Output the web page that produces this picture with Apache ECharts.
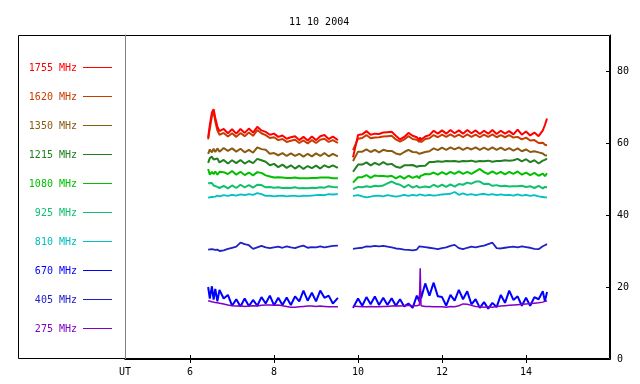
<!DOCTYPE html>
<html>
<head>
<meta charset="utf-8">
<script src="https://cdn.jsdelivr.net/npm/echarts@6/dist/echarts.min.js"></script>
<style>html,body{margin:0;padding:0;background:#fff}#c{width:640px;height:384px}</style>
</head>
<body>
<div id="c"></div>
<script>
const title = '11 10 2004';
const xTicks = [6, 8, 10, 12, 14];
const yTicks = [0, 20, 40, 60, 80];
const names = ['1755 MHz','1620 MHz','1350 MHz','1215 MHz','1080 MHz','925 MHz','810 MHz','670 MHz','405 MHz','275 MHz'];
const colors = ['#ff0000','#c83c00','#8a5a10','#208020','#00c000','#10c070','#00c0c0','#0000ff','#2020c8','#8000c8'];

const times1 = [6.43,6.47,6.52,6.56,6.6,6.65,6.7,6.8,6.9,7.0,7.1,7.2,7.3,7.4,7.5,7.6,7.7,7.8,7.9,8.0,8.1,8.2,8.3,8.4,8.5,8.6,8.7,8.8,8.9,9.0,9.1,9.2,9.3,9.4,9.52];
const times2 = [9.88,10.0,10.1,10.2,10.3,10.4,10.5,10.6,10.7,10.8,10.9,11.0,11.1,11.2,11.3,11.4,11.46,11.48,11.5,11.6,11.7,11.8,11.9,12.0,12.1,12.2,12.3,12.4,12.5,12.6,12.7,12.8,12.9,13.0,13.1,13.2,13.3,13.4,13.5,13.6,13.7,13.8,13.9,14.0,14.1,14.2,14.3,14.4,14.45,14.5];

const f1755a = [61.5,65,68.5,69.4,67,64.5,63.3,63.9,62.7,63.8,62.6,63.9,62.8,64.0,62.9,64.5,63.5,63.1,62.3,62.6,61.7,62.1,61.2,61.6,61.9,60.8,61.7,60.7,61.8,60.8,61.9,62.2,61.1,61.8,60.8];
const f1755b = [56.0,62.2,62.4,63.3,62.3,62.6,62.5,62.9,63.0,63.1,62.0,61.0,61.7,62.8,62.0,61.6,60.8,61.6,60.9,61.8,62.2,63.4,62.6,63.5,62.6,63.6,62.7,63.5,62.6,63.6,62.7,63.5,62.5,63.4,62.6,63.6,62.5,63.4,62.6,63.3,62.4,63.7,62.3,63.2,62.1,62.9,61.9,63.5,65.0,66.8];
const f1620a = [61.0,64.0,67.5,68.5,66.0,63.5,62.3,62.8,61.8,62.7,61.7,62.8,61.9,62.9,62.0,63.6,62.7,62.2,61.4,61.6,60.8,61.1,60.3,60.6,60.9,60.0,60.7,59.9,60.8,60.0,60.9,61.2,60.3,60.8,60.0];
const f1620b = [58.0,61.2,61.4,62.2,61.3,61.5,61.6,61.8,61.9,62.0,61.0,60.4,61.0,61.9,61.1,60.9,60.3,60.9,60.2,61.1,61.3,62.2,61.6,62.3,61.7,62.4,61.7,62.3,61.6,62.4,61.7,62.3,61.6,62.3,61.7,62.4,61.6,62.2,61.6,62.2,61.5,61.7,61.0,61.5,60.7,60.8,60.0,60.1,59.5,59.4];
const f1350a = [57.0,58.2,57.4,58.4,57.5,58.5,57.6,58.6,57.8,58.5,57.6,58.4,57.4,58.1,57.3,58.8,58.3,58.1,57.0,57.2,56.6,57.2,56.4,57.1,56.4,57.0,56.2,57.0,56.3,57.1,56.4,57.2,56.3,57.0,56.3];
const f1350b = [55.0,57.6,57.6,58.2,57.5,58.1,57.4,58.1,57.8,57.8,57.1,56.8,57.5,58.1,57.5,57.4,57.0,57.3,56.9,57.5,57.7,58.5,58.0,58.7,58.1,58.8,58.2,58.8,58.1,58.7,58.2,58.8,58.1,58.7,58.1,58.8,58.1,58.7,58.0,58.6,57.9,58.5,57.7,58.2,57.5,57.7,57.4,57.1,56.6,56.5];
const f1215a = [54.5,55.8,56.2,55.4,55.0,55.7,54.6,55.3,54.3,55.2,54.4,55.3,54.3,55.0,54.4,55.6,55.2,54.8,53.8,54.2,53.3,54.0,53.1,53.8,52.9,53.7,52.8,53.6,53.0,53.7,52.9,53.8,53.2,53.8,53.1];
const f1215b = [52.0,54.0,54.0,54.6,53.8,54.5,53.9,54.7,54.0,54.2,53.4,53.1,53.8,53.8,53.9,53.4,53.6,53.4,53.7,53.7,54.7,54.7,54.9,54.8,55.0,54.9,55.0,54.8,55.0,54.9,55.1,54.8,55.0,54.9,55.1,54.8,55.0,55.0,55.2,55.1,55.2,55.6,54.9,55.5,54.7,55.2,54.3,55.1,55.3,55.7];
const f1080a = [52.8,51.2,52.0,51.3,52.1,51.2,52.0,51.9,51.4,52.2,51.2,52.0,51.1,51.8,51.0,51.9,51.7,51.0,50.7,50.4,50.5,50.4,50.3,50.3,50.4,50.2,50.2,50.2,50.3,50.3,50.4,50.4,50.4,50.2,50.2];
const f1080b = [49.0,50.5,50.5,51.1,50.3,51.0,50.8,50.8,50.7,50.9,50.2,50.8,50.1,50.9,50.3,50.8,50.2,50.8,50.6,51.4,51.3,51.8,51.2,51.9,51.3,52.0,51.4,52.1,51.4,52.0,51.4,52.1,52.8,51.9,51.4,52.1,51.4,52.0,51.3,52.0,51.4,52.1,51.2,51.8,51.1,51.7,50.9,51.5,50.8,51.6];
const f925a = [48.8,48.5,48.9,48.2,48.0,47.8,47.5,48.1,47.4,48.2,47.5,48.4,47.7,48.3,47.6,48.4,48.3,47.7,47.8,47.6,47.7,47.5,47.6,47.5,47.7,47.4,47.5,47.4,47.6,47.5,47.7,47.6,48.0,47.8,47.7];
const f925b = [47.2,47.8,47.7,48.0,47.8,48.1,48.0,48.2,48.8,49.3,48.7,48.4,47.7,48.4,47.6,48.1,47.6,48.1,47.8,47.9,47.7,48.4,47.8,48.4,47.8,48.5,47.9,48.6,48.4,49.0,48.7,49.3,49.3,48.6,48.7,48.1,48.3,48.0,48.1,47.9,48.0,48.0,48.1,47.8,48.0,47.5,48.1,47.4,47.8,47.7];
const f810a = [44.8,45.2,45.0,45.3,45.1,45.4,45.2,45.5,45.3,45.6,45.4,45.7,45.5,45.8,45.6,46.1,45.8,45.3,45.4,45.2,45.3,45.4,45.2,45.3,45.3,45.2,45.4,45.3,45.4,45.5,45.6,45.5,45.8,45.7,45.8];
const f810b = [45.3,45.5,45.2,44.9,45.1,45.3,45.4,45.2,45.5,45.3,45.1,45.3,45.6,45.3,45.6,45.4,45.7,45.5,45.8,45.4,45.6,45.4,45.5,45.7,45.8,45.9,46.4,45.6,46.0,45.6,45.8,45.5,45.7,45.9,45.6,45.8,45.5,45.7,45.5,45.6,45.4,45.7,45.4,45.6,45.3,45.5,45.2,45.0,44.9,44.9];
const f670a = [20.0,16.8,20.2,16.5,19.5,16.0,19.2,16.8,17.8,14.8,16.6,14.6,16.8,14.7,16.4,14.8,17.2,15.4,17.6,14.9,17.0,15.0,17.1,15.0,17.4,16.0,19.0,16.2,18.4,16.0,19.0,17.0,17.6,15.4,17.0];
const f670b = [14.2,16.8,14.8,17.2,15.2,17.4,15.0,17.0,15.0,16.9,14.8,16.6,14.6,15.4,14.2,17.6,16.0,19.0,16.8,21.0,17.6,21.2,17.4,17.2,14.8,17.8,16.2,19.2,16.6,18.8,15.2,16.6,14.2,15.8,14.0,15.6,14.4,17.8,15.6,19.0,16.4,17.4,14.8,17.0,14.8,17.2,16.6,18.8,16.0,18.6];
const f405a = [30.4,30.2,30.5,30.1,30.3,30.4,30.0,30.2,30.6,30.9,31.2,32.3,31.9,31.6,30.6,31.0,31.4,31.0,30.8,31.0,31.2,30.9,31.3,31.0,30.8,31.2,31.5,30.9,31.1,31.0,31.3,31.0,31.2,31.4,31.5];
const f405b = [30.6,30.8,30.9,31.3,31.2,31.4,31.3,31.4,31.2,31.0,30.7,30.6,30.4,30.3,30.2,30.4,31.3,31.0,31.2,31.1,30.9,30.7,30.5,30.8,31.0,31.4,31.7,30.8,30.5,30.9,31.2,31.0,31.3,31.5,31.9,32.3,30.8,30.7,30.9,31.1,31.2,31.0,31.3,31.1,30.9,30.6,30.5,31.3,31.6,31.9];
const f275a = [16.2,16.0,15.9,15.8,15.7,15.6,15.5,15.3,15.0,14.8,14.7,14.8,14.6,14.7,14.8,14.7,14.9,15.0,15.0,14.9,15.0,14.8,14.6,14.4,14.4,14.5,14.6,14.7,14.7,14.6,14.7,14.6,14.5,14.5,14.5];
const f275b = [14.7,14.6,14.5,14.5,14.6,14.5,14.5,14.6,14.6,14.7,14.8,14.7,14.8,14.9,14.8,14.8,15.0,25.2,14.8,14.6,14.6,14.5,14.5,14.5,14.4,14.6,14.5,14.8,15.3,15.2,14.9,14.6,14.5,14.4,14.5,14.4,14.6,14.7,14.8,14.9,15.0,15.1,15.2,15.3,15.4,15.5,15.6,15.8,16.0,16.2];

const segA = [f1755a,f1620a,f1350a,f1215a,f1080a,f925a,f810a,f670a,f405a,f275a];
const segB = [f1755b,f1620b,f1350b,f1215b,f1080b,f925b,f810b,f670b,f405b,f275b];

function build(a, b) {
  const d = [];
  a.forEach((v, k) => { if (k < times1.length) d.push([times1[k], v]); });
  d.push([9.7, null]);
  b.forEach((v, k) => { if (k < times2.length) d.push([times2[k], v]); });
  return d;
}

const drawOrder = [8, 7, 9, 6, 5, 4, 3, 2, 1, 0];
const widths = [2, 2, 2, 2, 2, 2, 1.8, 2, 1.8, 1.5];
const FONT = 'DejaVu Sans Mono';

const series = drawOrder.map(i => ({
  type: 'line',
  name: names[i],
  data: build(segA[i], segB[i]),
  showSymbol: false,
  symbol: 'none',
  connectNulls: false,
  color: colors[i],
  lineStyle: { color: colors[i], width: widths[i] },
  animation: false,
  silent: true
}));

const legendGraphics = [];
names.forEach((n, i) => {
  const y = 67 + 29 * i;
  legendGraphics.push({
    type: 'text', silent: true,
    style: { text: n, x: 77, y: y + 1, align: 'right', verticalAlign: 'middle', fill: colors[i], font: '10px "' + FONT + '"' }
  });
  legendGraphics.push({
    type: 'rect', silent: true,
    shape: { x: 83, y: y, width: 29, height: 1 },
    style: { fill: colors[i] }
  });
});

const chart = echarts.init(document.getElementById('c'), null, { renderer: 'canvas' });
chart.setOption({
  animation: false,
  backgroundColor: '#fff',
  title: {
    text: title, left: 284, top: 12,
    textStyle: { fontFamily: FONT, fontSize: 10, fontWeight: 'normal', color: '#000' }
  },
  grid: { left: 125, right: 30, top: 35, bottom: 25 },
  xAxis: [{
    type: 'value', min: 4.45, max: 16, position: 'bottom',
    axisLine: { show: true, lineStyle: { color: '#000', width: 1 } },
    axisTick: { show: true, inside: true, length: 4, lineStyle: { color: '#000' }, customValues: xTicks },
    axisLabel: { show: true, color: '#000', fontFamily: FONT, fontSize: 10, margin: 8,
      customValues: [4.45].concat(xTicks),
      formatter: v => (Math.abs(v - 4.45) < 0.01 ? 'UT' : String(v)) },
    splitLine: { show: false }
  }, {
    type: 'value', min: 4.45, max: 16, position: 'top',
    axisLine: { show: true, lineStyle: { color: '#000', width: 1 } },
    axisTick: { show: true, inside: true, length: 4, lineStyle: { color: '#000' }, customValues: xTicks },
    axisLabel: { show: false },
    splitLine: { show: false }
  }],
  yAxis: [{
    type: 'value', min: 0, max: 90, position: 'right',
    axisLine: { show: true, lineStyle: { color: '#000', width: 1 } },
    axisTick: { show: true, inside: true, length: 4, lineStyle: { color: '#000' }, customValues: [20, 40, 60, 80] },
    axisLabel: { show: true, color: '#000', fontFamily: FONT, fontSize: 10, margin: 7, customValues: yTicks },
    splitLine: { show: false }
  }, {
    type: 'value', min: 0, max: 90, position: 'left',
    axisLine: { show: true, onZero: false, lineStyle: { color: '#808080', width: 1 } },
    axisTick: { show: false }, axisLabel: { show: false }, splitLine: { show: false }
  }],
  graphic: [{
    type: 'rect', silent: true, z: -1,
    shape: { x: 18.5, y: 35.5, width: 591, height: 323 },
    style: { fill: 'none', stroke: '#000', lineWidth: 1 }
  }].concat(legendGraphics),
  series: series
});
</script>
</body>
</html>
